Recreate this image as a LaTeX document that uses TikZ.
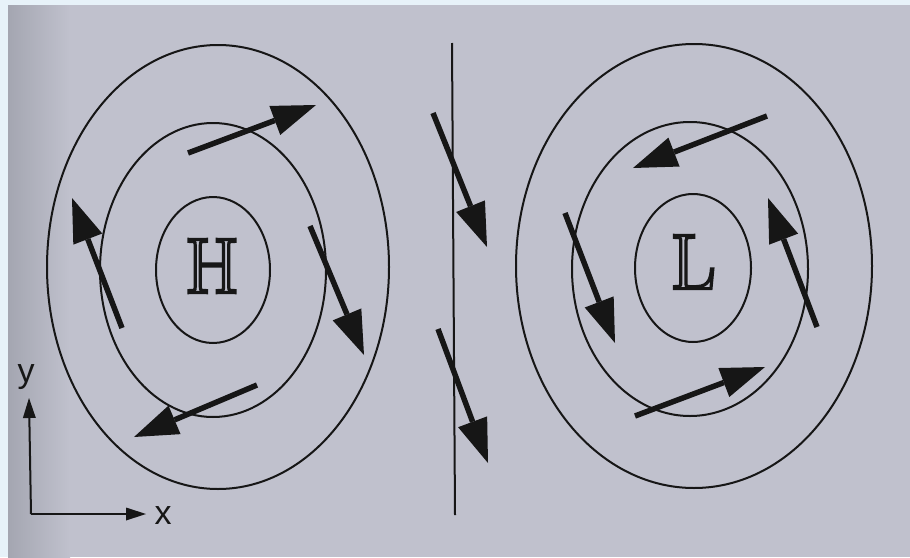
\documentclass[tikz,border=0pt]{standalone}
\usepackage{fontspec}
\setsansfont{Liberation Sans}
\usetikzlibrary{arrows.meta}
\definecolor{paper}{HTML}{C0C1CD}
\definecolor{paperdark}{HTML}{A4A6B1}
\definecolor{frame}{HTML}{E7F2F9}
\definecolor{ink}{HTML}{161616}
% hollow letter: fill in paper colour, heavy black outline
\newcommand{\hollowletter}[1]{%
  {\color{paper}\special{pdf:literal direct 0.09 0.09 0.09 RG 2 Tr 3.2 w}#1\special{pdf:literal direct 0 Tr}}}
\tikzset{
  isobar/.style={draw=ink,line width=2pt},
  wind/.style={draw=ink,line width=5.5pt,-{Triangle[length=44pt,width=31pt,line width=0pt,fill=ink]}},
  axis/.style={draw=ink,line width=2pt,-{Triangle[length=20pt,width=13pt,line width=0pt,fill=ink]}},
  centre/.style={font=\fontsize{78}{78}\selectfont,inner sep=0pt,text=ink},
  axislabel/.style={font=\sffamily\fontsize{34}{34}\selectfont,inner sep=0pt,text=ink}
}
\begin{document}
\begin{tikzpicture}[x=1pt,y=-1pt]
  \useasboundingbox (0,0) rectangle (910,557);
  \fill[frame] (0,0) rectangle (910,557);
  \fill[paper] (8,5) rectangle (910,557);
  \shade[left color=paperdark,right color=paper] (8,5) rectangle (70,557);

  % high pressure
  \draw[isobar] (218,267) ellipse [x radius=171,y radius=222];
  \draw[isobar] (213,270) ellipse [x radius=113,y radius=147];
  \draw[isobar] (213,270) ellipse [x radius=57,y radius=73];
  \node[centre] (high) at (212,266) {\hollowletter{H}};

  % low pressure
  \draw[isobar] (694,266) ellipse [x radius=178,y radius=222];
  \draw[isobar] (690,269) ellipse [x radius=118,y radius=147];
  \draw[isobar] (693,268) ellipse [x radius=58,y radius=74];
  \node[centre] (low) at (693,262) {\hollowletter{L}};

  % front
  \coordinate (ftop) at (452,43);
  \coordinate (fbot) at (455,515);
  \draw[isobar] (ftop) -- (fbot);

  % wind vectors
  \foreach \i/\s/\e in {h1/{188,153}/{316,105}, h2/{310,226}/{364,355},
                        h3/{257,385}/{134,437}, h4/{122,328}/{72,198},
                        f1/{433,113}/{487,247}, f2/{438,329}/{488,463},
                        l1/{767,116}/{633,168}, l2/{565,213}/{615,343},
                        l3/{635,416}/{765,367}, l4/{817,327}/{768,198}}{
    \coordinate (\i s) at (\s);
    \coordinate (\i e) at (\e);
    \draw[wind] (\i s) -- (\i e);
  }

  % axes
  \coordinate (origin) at (31,514);
  \coordinate (ytip) at (29,398);
  \coordinate (xtip) at (146,514);
  \draw[axis] (origin) -- (ytip);
  \draw[axis] (origin) -- (xtip);
  \node[axislabel] (ylab) at (26,377) {y};
  \node[axislabel] (xlab) at (163,516) {x};
\end{tikzpicture}
\end{document}
